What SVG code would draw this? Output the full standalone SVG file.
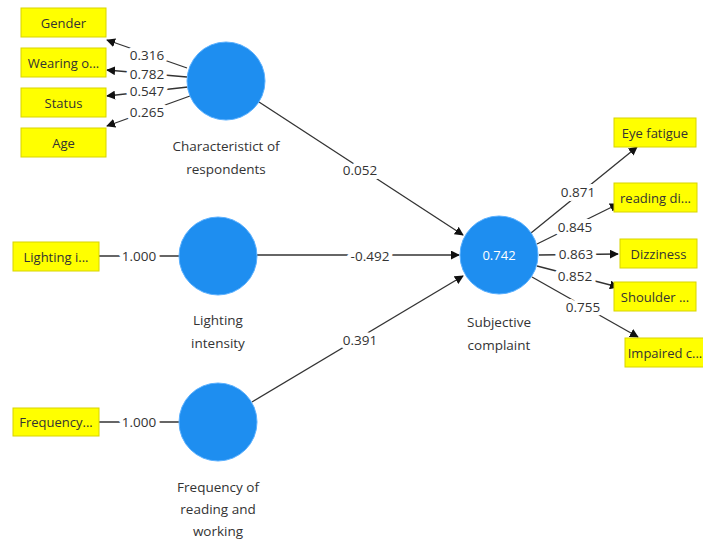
<svg xmlns="http://www.w3.org/2000/svg" width="703" height="539" viewBox="0 0 703 539">
<defs>
<marker id="ah" viewBox="0 0 10 10" refX="9" refY="5" markerWidth="9" markerHeight="9" markerUnits="userSpaceOnUse" orient="auto">
<path d="M0,0 L10,5 L0,10 z" fill="#111"/>
</marker>
<style>
.box{fill:#ffff00;stroke:#d8d400;stroke-width:1}
.bt{font-family:"Open Sans","Noto Sans",sans-serif;font-size:13px;fill:#333;text-anchor:middle;dominant-baseline:central}
.lv{fill:#1e8ef0;stroke:#5ab0ff;stroke-width:1}
.lt{font-family:"Open Sans","Noto Sans",sans-serif;font-size:13.5px;fill:#333;text-anchor:middle}
.ln{stroke:#333;stroke-width:1.3;fill:none}
.ar{marker-end:url(#ah)}
.w{font-family:"Open Sans","Noto Sans",sans-serif;font-size:13.5px;fill:#333;text-anchor:middle;dominant-baseline:central;stroke:#fff;stroke-width:8;paint-order:stroke;stroke-linejoin:round}
</style>
</defs>
<rect width="703" height="539" fill="#fff"/>
<g id="connectors">
<path class="ln ar" d="M187,68 L107,40"/>
<path class="ln ar" d="M187,77 L107,70"/>
<path class="ln ar" d="M188,87 L107,96"/>
<path class="ln ar" d="M190,96 L107,126"/>
<path class="ln" d="M99,256 L179,256"/>
<path class="ln" d="M99,422 L179,422"/>
<path class="ln ar" d="M259,102 L463,235"/>
<path class="ln ar" d="M257,255 L459,255"/>
<path class="ln ar" d="M252,402 L463,276"/>
<path class="ln ar" d="M531,233 L637,147"/>
<path class="ln ar" d="M537,244 L618,204"/>
<path class="ln ar" d="M539,255 L618,254"/>
<path class="ln ar" d="M537,266 L618,287"/>
<path class="ln ar" d="M532,277 L638,337"/>
<text class="w" x="147" y="55">0.316</text>
<text class="w" x="147" y="74">0.782</text>
<text class="w" x="147" y="91">0.547</text>
<text class="w" x="147" y="112">0.265</text>
<text class="w" x="139" y="256">1.000</text>
<text class="w" x="139" y="422">1.000</text>
<text class="w" x="360" y="170">0.052</text>
<text class="w" x="370" y="256">-0.492</text>
<text class="w" x="360" y="340">0.391</text>
<text class="w" x="578" y="192">0.871</text>
<text class="w" x="575" y="227">0.845</text>
<text class="w" x="576" y="254">0.863</text>
<text class="w" x="575" y="276">0.852</text>
<text class="w" x="583" y="307">0.755</text>
</g>
<g id="gender"><rect class="box" x="21" y="8" width="85" height="29"/><text class="bt" x="63.5" y="22.5">Gender</text></g>
<g id="wearing"><rect class="box" x="21" y="48" width="85" height="29"/><text class="bt" x="63.5" y="62.5">Wearing o...</text></g>
<g id="status"><rect class="box" x="21" y="88" width="85" height="29"/><text class="bt" x="63.5" y="102.5">Status</text></g>
<g id="age"><rect class="box" x="21" y="128" width="85" height="29"/><text class="bt" x="63.5" y="142.5">Age</text></g>
<g id="lighting-ind"><rect class="box" x="13" y="242" width="86" height="29"/><text class="bt" x="56" y="256.5">Lighting i...</text></g>
<g id="frequency-ind"><rect class="box" x="13" y="408" width="86" height="28"/><text class="bt" x="56" y="422">Frequency...</text></g>
<g id="characteristics"><circle class="lv" cx="226" cy="81" r="39"/><text class="lt" x="226" y="151">Characteristict of</text><text class="lt" x="226" y="174">respondents</text></g>
<g id="lighting"><circle class="lv" cx="218" cy="256" r="39"/><text class="lt" x="218" y="325">Lighting</text><text class="lt" x="218" y="348">intensity</text></g>
<g id="frequency"><circle class="lv" cx="218" cy="422" r="39"/><text class="lt" x="218" y="492">Frequency of</text><text class="lt" x="218" y="514">reading and</text><text class="lt" x="218" y="536">working</text></g>
<g id="subjective"><circle class="lv" cx="499" cy="255" r="39"/><text class="bt" x="499" y="255" style="fill:#fff">0.742</text><text class="lt" x="499" y="327">Subjective</text><text class="lt" x="499" y="350">complaint</text></g>
<g id="eye"><rect class="box" x="614" y="118" width="82" height="29"/><text class="bt" x="655" y="132.5">Eye fatigue</text></g>
<g id="reading"><rect class="box" x="614" y="183" width="83" height="29"/><text class="bt" x="655.5" y="197.5">reading di...</text></g>
<g id="dizziness"><rect class="box" x="620" y="239" width="77" height="29"/><text class="bt" x="658.5" y="253.5">Dizziness</text></g>
<g id="shoulder"><rect class="box" x="614" y="282" width="82" height="29"/><text class="bt" x="655" y="296.5">Shoulder ...</text></g>
<g id="impaired"><rect class="box" x="625" y="338" width="80" height="29"/><text class="bt" x="665" y="352.5">Impaired c...</text></g>
</svg>
